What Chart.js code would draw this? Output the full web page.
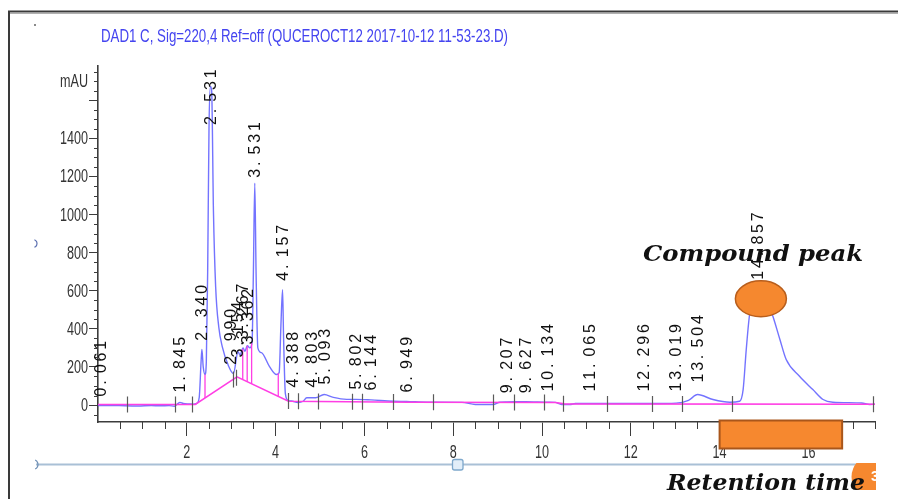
<!DOCTYPE html>
<html>
<head>
<meta charset="utf-8">
<script src="https://cdn.jsdelivr.net/npm/chart.js@4.4.1/dist/chart.umd.min.js"></script>
<style>
  html, body { margin: 0; padding: 0; background: #ffffff; overflow: hidden; }
  canvas { display: block; }
</style>
</head>
<body>
<canvas id="chrom" width="898" height="499"></canvas>
<script>
// ---- Run information ----
const signalTitle = 'DAD1 C, Sig=220,4 Ref=off (QUCEROCT12 2017-10-12 11-53-23.D)';
const unitLabel = 'mAU';
const peakCaption = 'Compound peak';
const axisCaption = 'Retention time';

// ---- Detector trace: retention time (min) and absorbance (mAU) ----
const traceTime = [
  0.00, 0.30, 0.60, 0.90, 1.20, 1.40, 1.60, 1.72, 1.80, 1.845, 1.92, 2.05, 2.15, 2.22, 2.28,
  2.32, 2.340, 2.37, 2.41, 2.44, 2.47, 2.50, 2.531, 2.56, 2.60, 2.65, 2.72, 2.80, 2.94, 3.05,
  3.154, 3.20, 3.267, 3.31, 3.362, 3.42, 3.47, 3.50, 3.531, 3.56, 3.60, 3.68, 3.86, 4.02, 4.08,
  4.12, 4.157, 4.18, 4.22, 4.28, 4.388, 4.50, 4.62, 4.70, 4.803, 4.90, 5.093, 5.30, 5.60, 5.802,
  6.144, 6.65, 6.949, 7.40, 8.20, 8.50, 8.90, 9.05, 9.207, 9.627, 10.134, 10.30, 10.44, 10.63, 10.75,
  11.065, 11.50, 12.296, 12.50, 13.019, 13.30, 13.504, 13.85, 14.23, 14.45, 14.53, 14.60, 14.67, 14.75,
  14.857, 15.00, 15.20, 15.36, 15.50, 15.80, 16.10, 16.33, 16.55, 17.20, 17.38, 17.50
];
const traceSignal = [
  -3, -2, -4, -5, -3, -4, -3, -6, 8, 14, 8, 6, 5, 8, 40,
  220, 292, 200, 160, 230, 700, 1450, 1672, 1650, 1020, 620, 410, 305, 205, 165,
  280, 262, 300, 282, 312, 300, 330, 700, 1165, 700, 300, 275, 203, 160, 170,
  420, 605, 350, 60, 25, 20, 13, 20, 38, 38, 38, 55, 40, 30, 30,
  27, 20, 19, 15, 14, 3, 3, 15, 16, 18, 15, 14, 3, 3, 8,
  8, 8, 8, 8, 10, 25, 55, 29, 15, 20, 81, 291, 466, 570,
  630, 590, 466, 343, 239, 151, 81, 29, 15, 11, 3, 4
];

// ---- Integration baseline ----
const baseTime = [0.00, 2.19, 3.13, 4.29, 7.00, 10.30, 10.50, 17.50];
const baseSignal = [3, 3, 148, 20, 15, 13, 6, 4];

// ---- Drop lines between co-eluting peaks (min) ----
const dropTime = [2.41, 3.26, 3.36, 3.46, 4.06];

// ---- Peak start / end markers (min) ----
const markerTime = [
  0.66, 1.74, 2.12, 3.04, 3.10, 4.28, 4.51, 4.96, 5.72, 5.95, 6.64,
  7.55, 8.89, 9.37, 10.04, 10.47, 11.46, 12.47, 13.15, 14.27, 17.45
];

// ---- Integrated peaks: retention time and height of the label foot (mAU) ----
const peakRT = [
  0.061, 1.845, 2.340, 2.531, 2.990, 3.154, 3.267, 3.362, 3.531, 4.157, 4.388, 4.803,
  5.093, 5.802, 6.144, 6.949, 9.207, 9.627, 10.134, 11.065, 12.296, 13.019, 13.504, 14.857
];
const peakLabelAt = [
  45, 66, 338, 1470, 212, 250, 345, 318, 1193, 653, 92, 92,
  108, 81, 76, 66, 62, 62, 71, 71, 71, 71, 118, 658
];

// ---- Axis ticks ----
const xTicks = [2, 4, 6, 8, 10, 12, 14, 16];
const yTicks = [0, 200, 400, 600, 800, 1000, 1200, 1400, 1600];
const yLabelled = [0, 200, 400, 600, 800, 1000, 1200, 1400];
const xRange = [0, 17.5];
const yRange = [-89, 1780];

const SANS = '"Liberation Sans", Arial, sans-serif';
const SERIF = '"DejaVu Serif", "Liberation Serif", serif';
const CONDENSE = 0.7;   // horizontal squeeze for the narrow axis lettering

function interp(ts, vs, t) {
  if (t <= ts[0]) return vs[0];
  for (let i = 1; i < ts.length; i++) {
    if (t <= ts[i]) {
      const f = (t - ts[i - 1]) / (ts[i] - ts[i - 1]);
      return vs[i - 1] + f * (vs[i] - vs[i - 1]);
    }
  }
  return vs[vs.length - 1];
}

const tracePoints = traceTime.map((t, i) => ({ x: t, y: traceSignal[i] }));
const basePoints = baseTime.map((t, i) => ({ x: t, y: baseSignal[i] }));
const dropPoints = [];
dropTime.forEach(t => {
  dropPoints.push({ x: t, y: interp(baseTime, baseSignal, t) });
  dropPoints.push({ x: t, y: interp(traceTime, traceSignal, t) });
  dropPoints.push({ x: t, y: null });
});

// Text stretched horizontally to a given width
function fitText(ctx, txt, x, y, width) {
  const w = ctx.measureText(txt).width;
  ctx.save();
  ctx.translate(x, y);
  ctx.scale(width / w, 1);
  ctx.fillText(txt, 0, 0);
  ctx.restore();
}

// Text squeezed by a fixed factor, anchored per textAlign
function narrowText(ctx, txt, x, y, align) {
  const w = ctx.measureText(txt).width * CONDENSE;
  let x0 = x;
  if (align === 'right') x0 = x - w;
  else if (align === 'center') x0 = x - w / 2;
  ctx.save();
  ctx.textAlign = 'left';
  ctx.translate(x0, y);
  ctx.scale(CONDENSE, 1);
  ctx.fillText(txt, 0, 0);
  ctx.restore();
}

const decorations = {
  id: 'decorations',
  afterDatasetsDraw(chart) {
    const ctx = chart.ctx;
    const xs = chart.scales.x, ys = chart.scales.y;
    const area = chart.chartArea;

    // minor ticks on both axes
    ctx.save();
    ctx.strokeStyle = '#3c3c3c';
    ctx.lineWidth = 1;
    ctx.beginPath();
    for (let t = 0.5; t <= xRange[1] + 1e-6; t += 0.5) {
      if (Math.abs(t / 2 - Math.round(t / 2)) < 1e-6) continue;
      const px = Math.round(xs.getPixelForValue(t)) + 0.5;
      ctx.moveTo(px, area.bottom);
      ctx.lineTo(px, area.bottom + 7);
    }
    for (let v = -50; v <= yRange[1]; v += 50) {
      if (v % 200 === 0) continue;
      const py = Math.round(ys.getPixelForValue(v)) + 0.5;
      ctx.moveTo(area.left, py);
      ctx.lineTo(area.left - 4, py);
    }
    ctx.stroke();

    // peak start / end markers on the baseline
    ctx.strokeStyle = '#5a5a5a';
    ctx.lineWidth = 1.2;
    ctx.beginPath();
    markerTime.forEach(t => {
      const px = Math.round(xs.getPixelForValue(t)) + 0.5;
      const py = ys.getPixelForValue(interp(baseTime, baseSignal, t));
      ctx.moveTo(px, py - 8);
      ctx.lineTo(px, py + 8);
    });
    ctx.stroke();
    ctx.restore();

    // axis tick labels, taken from the scales' own ticks
    ctx.save();
    ctx.font = '18px ' + SANS;
    ctx.fillStyle = '#333333';
    ctx.textBaseline = 'middle';
    ys.ticks.forEach(tk => {
      if (!yLabelled.includes(tk.value)) return;
      narrowText(ctx, String(tk.value), area.left - 10, ys.getPixelForValue(tk.value) + 1, 'right');
    });
    narrowText(ctx, unitLabel, area.left - 10, ys.getPixelForValue(yRange[1]) + 16, 'right');
    ctx.textBaseline = 'alphabetic';
    xs.ticks.forEach(tk => {
      narrowText(ctx, String(tk.value), xs.getPixelForValue(tk.value), area.bottom + 36, 'center');
    });
    ctx.restore();

    // retention time labels, rotated, fixed character pitch
    ctx.save();
    ctx.font = '16px ' + SANS;
    ctx.fillStyle = '#101010';
    ctx.textBaseline = 'middle';
    ctx.textAlign = 'left';
    const pitch = 11.7;
    peakRT.forEach((rt, i) => {
      const px = xs.getPixelForValue(rt);
      const py = ys.getPixelForValue(peakLabelAt[i]);
      const txt = rt.toFixed(3);
      ctx.save();
      ctx.translate(px + 1, py);
      ctx.rotate(-Math.PI / 2);
      for (let k = 0; k < txt.length; k++) ctx.fillText(txt[k], k * pitch, 0);
      ctx.restore();
    });
    ctx.restore();
  },
  afterDraw(chart) {
    const ctx = chart.ctx;
    const xs = chart.scales.x, ys = chart.scales.y;
    const area = chart.chartArea;

    // window frame
    ctx.save();
    ctx.strokeStyle = '#3a3a3a';
    ctx.lineWidth = 2;
    ctx.beginPath();
    ctx.moveTo(9, 499);
    ctx.lineTo(9, 11.5);
    ctx.lineTo(898, 11.5);
    ctx.stroke();
    ctx.strokeStyle = '#b0b0b0';
    ctx.lineWidth = 1;
    ctx.beginPath();
    ctx.moveTo(10, 13.5);
    ctx.lineTo(898, 13.5);
    ctx.stroke();
    ctx.fillStyle = '#8a8a8a';
    ctx.fillRect(34, 24, 2, 2);
    ctx.strokeStyle = '#5b6fb0';
    ctx.lineWidth = 1.2;
    ctx.beginPath();
    ctx.arc(33, 243.5, 4, -Math.PI / 2.6, Math.PI / 2.6);
    ctx.stroke();
    ctx.restore();

    // signal title
    ctx.save();
    ctx.font = '18px ' + SANS;
    ctx.fillStyle = '#4444f0';
    ctx.textBaseline = 'alphabetic';
    fitText(ctx, signalTitle, 101, 41.5, 407);
    ctx.restore();

    // scrollbar
    ctx.save();
    ctx.strokeStyle = '#a9c0d6';
    ctx.lineWidth = 2;
    ctx.beginPath();
    ctx.moveTo(36, 464.5);
    ctx.lineTo(856, 464.5);
    ctx.stroke();
    ctx.strokeStyle = '#6f8fb5';
    ctx.lineWidth = 1.3;
    ctx.beginPath();
    ctx.arc(33, 464.5, 5, -Math.PI / 2.8, Math.PI / 2.8);
    ctx.stroke();
    ctx.fillStyle = '#e2eef9';
    ctx.strokeStyle = '#7ea8cc';
    ctx.lineWidth = 1.3;
    ctx.beginPath();
    ctx.roundRect(452.5, 459.5, 10.5, 10.5, 2);
    ctx.fill();
    ctx.stroke();
    ctx.restore();

    // highlighted compound peak
    ctx.save();
    const cx = xs.getPixelForValue(14.93), cy = ys.getPixelForValue(558);
    ctx.fillStyle = '#f5882f';
    ctx.strokeStyle = '#b85e1c';
    ctx.lineWidth = 1.5;
    ctx.beginPath();
    ctx.ellipse(cx, cy, 25.5, 18, 0, 0, Math.PI * 2);
    ctx.fill();
    ctx.stroke();

    // highlighted retention window on the time axis
    const rx0 = xs.getPixelForValue(14.0), rx1 = xs.getPixelForValue(16.76);
    ctx.fillStyle = '#f6882f';
    ctx.strokeStyle = '#a9561b';
    ctx.lineWidth = 2;
    ctx.beginPath();
    ctx.rect(rx0, area.bottom - 1.5, rx1 - rx0, 28);
    ctx.fill();
    ctx.stroke();

    // corner badge
    ctx.beginPath();
    ctx.rect(851, 463, 25, 27);
    ctx.clip();
    ctx.fillStyle = '#f6882f';
    ctx.beginPath();
    ctx.arc(874, 477, 22.5, 0, Math.PI * 2);
    ctx.fill();
    ctx.fillStyle = '#ffffff';
    ctx.font = 'bold 14px ' + SANS;
    ctx.textBaseline = 'middle';
    ctx.fillText('3', 871, 477);
    ctx.restore();

    // captions
    ctx.save();
    ctx.fillStyle = '#111111';
    ctx.textBaseline = 'alphabetic';
    ctx.font = 'italic bold 23px ' + SERIF;
    fitText(ctx, peakCaption, 643, 261, 220);
    ctx.font = 'italic bold 22px ' + SERIF;
    fitText(ctx, axisCaption, 667, 490, 198);
    ctx.restore();
  }
};

new Chart(document.getElementById('chrom'), {
  type: 'line',
  data: {
    datasets: [
      {
        label: 'baseline',
        data: basePoints,
        borderColor: '#ff3ee4',
        borderWidth: 1.6,
        pointRadius: 0,
        tension: 0,
        order: 0
      },
      {
        label: 'drops',
        data: dropPoints,
        borderColor: '#ff3ee4',
        borderWidth: 1.3,
        pointRadius: 0,
        spanGaps: false,
        order: 0
      },
      {
        label: 'DAD1 C',
        data: tracePoints,
        borderColor: 'rgba(80, 80, 255, 0.8)',
        borderWidth: 1.4,
        pointRadius: 0,
        cubicInterpolationMode: 'monotone',
        order: 1
      }
    ]
  },
  options: {
    responsive: false,
    animation: false,
    devicePixelRatio: 1,
    layout: { padding: { left: 0, right: 23, top: 66, bottom: 0 } },
    plugins: {
      legend: { display: false },
      title: { display: false },
      tooltip: { enabled: false }
    },
    scales: {
      x: {
        type: 'linear',
        min: xRange[0],
        max: xRange[1],
        afterBuildTicks: s => { s.ticks = xTicks.map(v => ({ value: v })); },
        afterFit: s => { s.height = 77; },
        grid: { display: true, drawOnChartArea: false, drawTicks: true, tickLength: 14, color: '#3c3c3c', lineWidth: 1 },
        border: { display: true, color: '#3c3c3c', width: 1.6 },
        ticks: { display: false }
      },
      y: {
        type: 'linear',
        min: yRange[0],
        max: yRange[1],
        afterBuildTicks: s => { s.ticks = yTicks.map(v => ({ value: v })); },
        afterFit: s => { s.width = 98; },
        grid: { display: true, drawOnChartArea: false, drawTicks: true, tickLength: 9, color: '#3c3c3c', lineWidth: 1 },
        border: { display: true, color: '#3c3c3c', width: 1.6 },
        ticks: { display: false }
      }
    }
  },
  plugins: [decorations]
});
</script>
</body>
</html>
